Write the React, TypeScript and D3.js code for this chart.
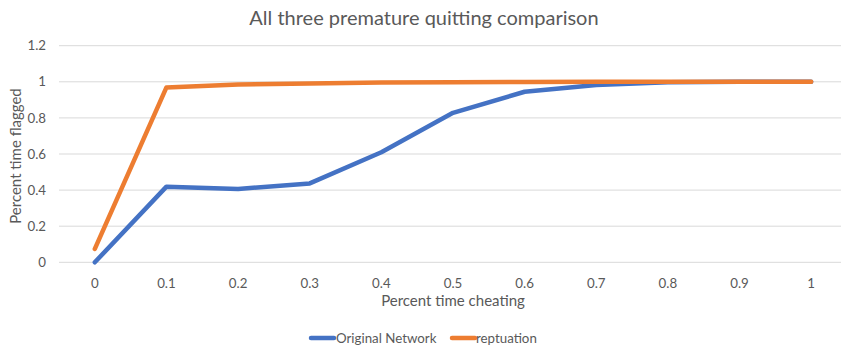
import React from "react";
import * as d3 from "d3";

const categories: string[] = ["0", "0.1", "0.2", "0.3", "0.4", "0.5", "0.6", "0.7", "0.8", "0.9", "1"];
const originalNetwork: number[] = [0, 0.419, 0.406, 0.437, 0.61, 0.828, 0.945, 0.982, 0.998, 1, 1];
const reputation: number[] = [0.074, 0.969, 0.985, 0.991, 0.996, 0.998, 0.999, 1, 1, 1, 1];
const yTicks: number[] = [0, 0.2, 0.4, 0.6, 0.8, 1, 1.2];

const seriesList = [
  { name: "Original Network", values: originalNetwork, color: "#4472C4" },
  { name: "reptuation", values: reputation, color: "#ED7D31" },
];

const W = 841;
const H = 347;
const FONT = "Lato, 'Open Sans', sans-serif";
const TEXT = "#595959";

export default function App() {
  const x = d3.scaleBand<string>().domain(categories).range([59, 847]);
  const y = d3.scaleLinear().domain([0, 1.2]).range([262.3, 45.7]);
  const cx = (c: string) => (x(c) ?? 0) + x.bandwidth() / 2;

  const line = d3
    .line<number>()
    .x((_, i) => cx(categories[i]))
    .y((d) => y(d));

  const legend = [
    { sx: 311, tx: 336 },
    { sx: 452, tx: 476 },
  ];

  return (
    <div style={{ position: "absolute", left: 0, top: 0 }}>
      <svg width={W} height={H} style={{ display: "block", background: "#fff", fontFamily: FONT }}>
        <text x={424} y={25} textAnchor="middle" fontSize={20} fill={TEXT}>
          All three premature quitting comparison
        </text>

        {yTicks.map((t) => (
          <g key={t}>
            <line x1={59} x2={W} y1={y(t)} y2={y(t)} stroke="#D9D9D9" strokeWidth={1} />
            <text x={46} y={y(t)} dy="0.35em" textAnchor="end" fontSize={13.3} fill={TEXT}>
              {t}
            </text>
          </g>
        ))}

        {categories.map((c) => (
          <text key={c} x={cx(c)} y={283} dy="0.35em" textAnchor="middle" fontSize={13.3} fill={TEXT}>
            {c}
          </text>
        ))}

        <text x={453} y={300.5} dy="0.35em" textAnchor="middle" fontSize={15} fill={TEXT}>
          Percent time cheating
        </text>
        <text
          transform={`translate(16,156) rotate(-90)`}
          textAnchor="middle"
          dy="0.35em"
          fontSize={15}
          fill={TEXT}
        >
          Percent time flagged
        </text>

        {seriesList.map((s) => (
          <path
            key={s.name}
            d={line(s.values) ?? ""}
            fill="none"
            stroke={s.color}
            strokeWidth={4.5}
            strokeLinecap="round"
            strokeLinejoin="round"
          />
        ))}

        {seriesList.map((s, i) => (
          <g key={s.name}>
            <line
              x1={legend[i].sx}
              x2={legend[i].sx + 23}
              y1={338}
              y2={338}
              stroke={s.color}
              strokeWidth={4.5}
              strokeLinecap="round"
            />
            <text x={legend[i].tx} y={338} dy="0.35em" fontSize={13.3} fill={TEXT}>
              {s.name}
            </text>
          </g>
        ))}
      </svg>
    </div>
  );
}
